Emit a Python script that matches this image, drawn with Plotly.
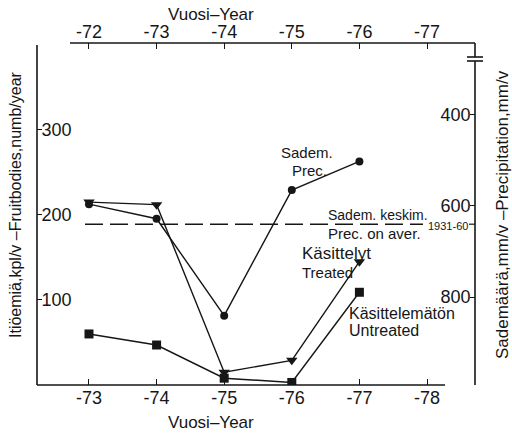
import plotly.graph_objects as go

# Harvest years (bottom axis) and precipitation years (top axis)
years = [73, 74, 75, 76, 77]
year_ticks_bottom = [73, 74, 75, 76, 77, 78]
year_ticks_top = [72, 73, 74, 75, 76, 77]

# Fruitbodies per year
untreated = [60, 47, 8, 3, 109]
treated = [215, 212, 15, 29, 145]

# Precipitation, mm per year (plotted on the preceding year)
precip = [596, 628, 841, 565, 502]
precip_avg = 640  # 1931-60 mean

left_ticks = [100, 200, 300]
right_ticks = [400, 600, 800]

INK = "#161616"
FONT = "Liberation Sans"

W, H = 512, 435
L, R, T, B = 37, 37, 43, 50
PW, PH = W - L - R, H - T - B


def px(x):
    return (x - L) / PW


def py(y):
    return (H - B - y) / PH


fig = go.Figure()

fig.add_trace(go.Scatter(
    x=years, y=precip, xaxis="x", yaxis="y2", mode="lines+markers",
    line=dict(color=INK, width=1.4),
    marker=dict(symbol="circle", size=8, color=INK),
    name="Sadem. Prec.", showlegend=False))
fig.add_trace(go.Scatter(
    x=years, y=treated, mode="lines+markers",
    line=dict(color=INK, width=1.4),
    marker=dict(symbol="triangle-down", size=10, color=INK),
    name="Treated", showlegend=False))
fig.add_trace(go.Scatter(
    x=years, y=untreated, mode="lines+markers",
    line=dict(color=INK, width=1.4),
    marker=dict(symbol="square", size=9, color=INK),
    name="Untreated", showlegend=False))

tickfont = dict(family=FONT, size=18, color=INK)

fig.update_layout(
    width=W, height=H,
    margin=dict(l=L, r=R, t=T, b=B),
    paper_bgcolor="white", plot_bgcolor="white",
    xaxis=dict(range=[72.231, 78.71], tickvals=year_ticks_bottom,
               ticktext=[f"-{v}" for v in year_ticks_bottom],
               ticks="inside", ticklen=6, tickwidth=1.4, tickcolor=INK,
               showline=False, showgrid=False, zeroline=False,
               tickfont=tickfont),
    xaxis2=dict(range=[71.231, 77.71], overlaying="x", side="top",
                tickvals=year_ticks_top,
                ticktext=[f"-{v}" for v in year_ticks_top],
                ticks="inside", ticklen=6, tickwidth=1.4, tickcolor=INK,
                showline=False, showgrid=False, zeroline=False,
                tickfont=tickfont),
    yaxis=dict(range=[0, 402], tickvals=left_ticks,
               ticks="inside", ticklen=5, tickwidth=1.4, tickcolor=INK,
               ticklabelposition="inside",
               showline=False, showgrid=False, zeroline=False,
               tickfont=tickfont),
    yaxis2=dict(range=[993.4, 241.8], overlaying="y", side="right",
                tickvals=right_ticks,
                ticks="inside", ticklen=5, tickwidth=1.4, tickcolor=INK,
                ticklabelposition="inside",
                showline=False, showgrid=False, zeroline=False,
                tickfont=tickfont),
)

# empty trace so the top axis is drawn
fig.add_trace(go.Scatter(x=[None], y=[None], xaxis="x2", showlegend=False))

axis_line = dict(color=INK, width=1.6)
shapes = [
    # left axis
    dict(type="line", xref="paper", yref="paper", x0=0, x1=0, y0=0, y1=py(45), line=axis_line),
    # bottom axis
    dict(type="line", xref="paper", yref="paper", x0=0, x1=px(445), y0=0, y1=0, line=axis_line),
    # top axis
    dict(type="line", xref="paper", yref="paper", x0=px(70), x1=1, y0=1, y1=1, line=axis_line),
    # right axis with break
    dict(type="line", xref="paper", yref="paper", x0=1, x1=1, y0=0, y1=py(61), line=axis_line),
    dict(type="line", xref="paper", yref="paper", x0=1, x1=1, y0=py(57), y1=1, line=axis_line),
    dict(type="line", xref="paper", yref="paper", x0=px(467), x1=px(483), y0=py(57), y1=py(57), line=axis_line),
    dict(type="line", xref="paper", yref="paper", x0=px(467), x1=px(483), y0=py(61), y1=py(61), line=axis_line),
    # 1931-60 mean precipitation
    dict(type="line", xref="paper", yref="y2", x0=px(85), x1=px(423), y0=precip_avg, y1=precip_avg,
         line=dict(color=INK, width=1.4, dash="18px,7px")),
    dict(type="line", xref="paper", yref="y2", x0=px(469), x1=1, y0=precip_avg, y1=precip_avg,
         line=dict(color=INK, width=1.2)),
]
fig.update_layout(shapes=shapes)


def label(text, x, y, size, xanchor="left", angle=0):
    fig.add_annotation(text=text, xref="paper", yref="paper", x=px(x), y=py(y),
                       xanchor=xanchor, yanchor="middle", showarrow=False,
                       textangle=angle, font=dict(family=FONT, size=size, color=INK))


label("Sadem.", 307, 152, 15, xanchor="center")
label("Prec.", 309, 170, 15, xanchor="center")
label("Sadem. keskim.", 326, 215, 14)
label("Prec. on aver.", 326, 233, 15)
label("1931-60", 426, 226, 11)
label("Käsittelyt", 300, 253, 17)
label("Treated", 300, 272, 15)
label("Käsittelemätön", 347, 313, 16)
label("Untreated", 347, 330, 16)
label("Vuosi–Year", 211, 15, 17, xanchor="center")
label("Vuosi–Year", 211, 422, 17, xanchor="center")
label("Itiöemiä,kpl/v –Fruitbodies,numb/year", 15, 205, 16, xanchor="center", angle=-90)
label("Sademäärä,mm/v –Precipitation,mm/v", 502, 215, 17, xanchor="center", angle=-90)

fig.write_html("out.html")
